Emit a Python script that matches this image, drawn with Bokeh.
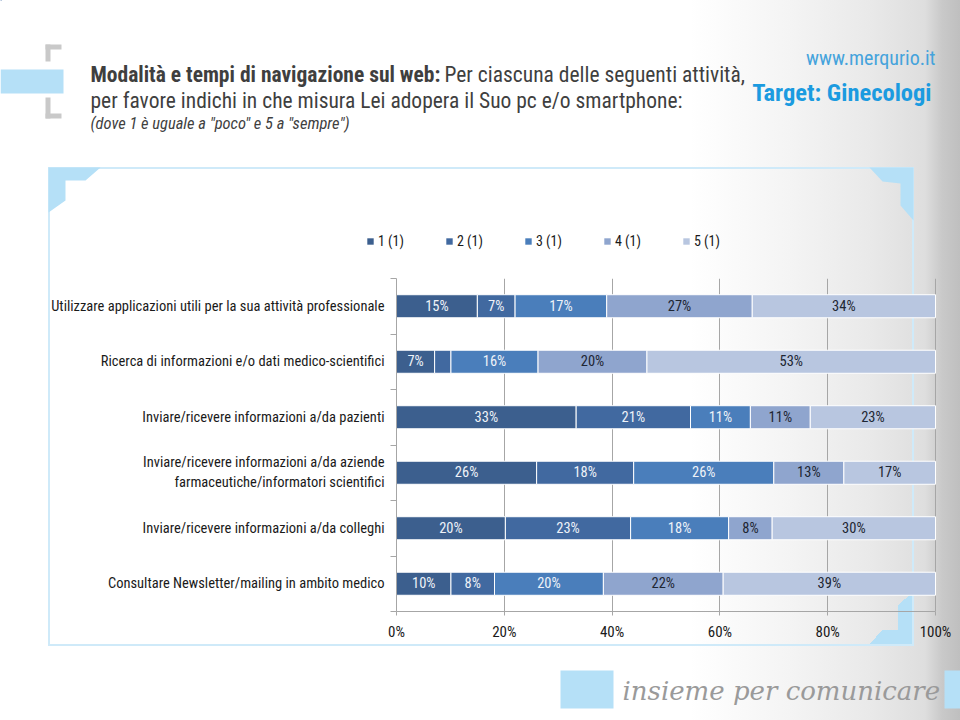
from bokeh.plotting import figure
from bokeh.layouts import column
from bokeh.models import ColumnDataSource, Label, FixedTicker, Range1d
from bokeh.core.properties import value
from bokeh.embed import file_html
from bokeh.resources import INLINE

# ---------------- data ----------------
categories = [
    "Utilizzare applicazioni utili per la sua attività professionale",
    "Ricerca di informazioni e/o dati medico-scientifici",
    "Inviare/ricevere informazioni a/da pazienti",
    "Inviare/ricevere informazioni a/da aziende\nfarmaceutiche/informatori scientifici",
    "Inviare/ricevere informazioni a/da colleghi",
    "Consultare Newsletter/mailing in ambito medico",
]
series = ["1 (1)", "2 (1)", "3 (1)", "4 (1)", "5 (1)"]
s1 = [15, 7, 33, 26, 20, 10]
s2 = [7, 3, 21, 18, 23, 8]
s3 = [17, 16, 11, 26, 18, 20]
s4 = [27, 20, 11, 13, 8, 22]
s5 = [34, 53, 23, 17, 30, 39]
hidden_labels = [(1, 1)]  # (row, series) without a printed label
x_ticks = [0, 20, 40, 60, 80, 100]
x_tick_labels = ["0%", "20%", "40%", "60%", "80%", "100%"]

colors = ["#3C5F8E", "#4169A0", "#4A7EBB", "#8FA5CE", "#B8C6E0"]
label_colors = ["#EEF2F8", "#EEF2F8", "#EEF2F8", "#1E2633", "#1E2633"]

FONT = "Roboto Condensed"
W = 960
LB = "#B5E0F7"      # light blue fills
BOXC = "#CFEAF9"    # light blue frame line
GREY = "#C9C9C9"
GRAD = ("linear-gradient(to right, #ffffff 0px, #ffffff 690px, #f4f4f4 790px, "
        "#e9e9e9 870px, #dedede 925px, #c9c9c9 942px, #bfbfbf 960px)")


def css_rect(x, y, w, h, col):
    return f"linear-gradient({col},{col}) {x}px {y}px / {w}px {h}px no-repeat"


def css_tri(x, y, w, h, col):
    return (f"linear-gradient(to bottom right, transparent 50%, {col} 50%) "
            f"{x}px {y}px / {w}px {h}px no-repeat")


def bare(p):
    p.outline_line_color = None
    p.background_fill_alpha = 0
    p.border_fill_alpha = 0
    p.xgrid.visible = False
    p.ygrid.visible = False


# ================= header figure (page y 0..278) =================
HA = 278
A = figure(width=W, height=HA, output_backend="svg", toolbar_location=None,
           x_range=Range1d(0, W), y_range=Range1d(HA, 0),
           x_axis_location=None, y_axis_location=None, min_border=0,
           frame_align=False)
bare(A)
A.styles = {"background": ", ".join([
    css_rect(48, 167, 866, 2, BOXC), css_rect(48, 167, 2, HA - 167, BOXC),
    css_rect(912, 167, 2, HA - 167, BOXC), GRAD])}

A.quad(left=[0], right=[63], top=[69], bottom=[93], color=LB, line_alpha=0)
A.quad(left=[45, 45, 45, 45], right=[50, 61, 50, 61], top=[44, 44, 97, 113],
       bottom=[61, 49, 118, 118], color=GREY, line_alpha=0)
A.patch([48, 100, 85, 65, 65, 48], [167, 167, 180, 180, 200, 212], color=LB, line_alpha=0)
A.patch([869, 913, 913, 900, 900, 882], [167, 167, 220, 205, 183, 181], color=LB, line_alpha=0)

# legend proxies (same colours as the stacked series), drawn off-canvas
for col, name in zip(colors, series):
    A.hbar(y=[-1000], left=[0], right=[1], height=1, color=col, line_alpha=0,
           legend_label=name)
lg = A.legend[0]
lg.orientation = "horizontal"
lg.location = (366, HA - 249)
lg.margin = 0
lg.padding = 0
lg.spacing = 7
lg.glyph_width = 8
lg.glyph_height = 8
lg.label_width = 60
lg.label_height = 16
lg.label_standoff = 4
lg.label_text_font = FONT
lg.label_text_font_size = "14px"
lg.label_text_color = "#1a1a1a"
lg.border_line_alpha = 0
lg.background_fill_alpha = 0


def add_label(fig, x, y, text, size, color, style="normal", align="left", font=FONT):
    fig.add_layout(Label(x=x, y=y, text=text, text_font=font, text_font_size=size,
                         text_font_style=style, text_color=color,
                         text_align=align, text_baseline="middle"))


add_label(A, 90, 74, "Modalità e tempi di navigazione sul web:", "21.5px", "#3F3F3F", "bold")
add_label(A, 444, 74, "Per ciascuna delle seguenti attività,", "21.5px", "#3F3F3F")
add_label(A, 90, 100, "per favore indichi in che misura Lei adopera il Suo pc e/o smartphone:",
          "21.5px", "#3F3F3F")
add_label(A, 90, 123, "(dove 1 è uguale a \"poco\" e 5 a \"sempre\")", "16.5px", "#3F3F3F", "italic")
add_label(A, 935, 57, "www.merqurio.it", "20px", "#45A3DC", align="right")
add_label(A, 931, 92, "Target: Ginecologi", "24.5px", "#1B9BE0", "bold", align="right")

# ================= chart figure (page y 278..644) =================
FL, F100 = 396, 935          # page x of 0 % and 100 %
HB = 366
x_end = 100.0 * (W - FL) / (F100 - FL)
n = len(categories)
B = figure(width=W, height=HB, output_backend="svg", toolbar_location=None,
           x_range=Range1d(0, x_end), y_range=Range1d(n - 0.5, -0.5),
           min_border_left=FL, min_border_right=0, min_border_top=0,
           min_border_bottom=33, frame_align=False)
B.outline_line_color = None
B.background_fill_alpha = 0
B.border_fill_alpha = 0
B.styles = {"background": ", ".join([
    css_rect(48, 0, 2, HB, BOXC), css_rect(912, 0, 2, HB, BOXC),
    css_tri(898, 315, 14, 12, LB), css_rect(898, 327, 15, 39, LB),
    css_rect(882, 352, 16, 14, LB), css_tri(870, 352, 12, 14, LB), GRAD])}

keys = ["s1", "s2", "s3", "s4", "s5"]
raw = [s1, s2, s3, s4, s5]
totals = [sum(r[i] for r in raw) for i in range(n)]
data = {"y": list(range(n))}
for k, r in zip(keys, raw):
    data[k] = [v / t * 100 for v, t in zip(r, totals)]
src = ColumnDataSource(data)
B.hbar_stack(keys, y="y", height=0.415, color=colors, source=src,
             line_color="white", line_width=1)

lx, ly, lt, lc = [], [], [], []
for row in range(n):
    cum = 0.0
    for j, k in enumerate(keys):
        v = data[k][row]
        if (row, j) not in hidden_labels:
            lx.append(cum + v / 2)
            ly.append(row)
            lt.append(f"{raw[j][row]}%")
            lc.append(label_colors[j])
        cum += v
B.text(x="x", y="y", text="t", text_color="c",
       source=ColumnDataSource(dict(x=lx, y=ly, t=lt, c=lc)),
       text_align="center", text_baseline="middle",
       text_font=value(FONT), text_font_size="14.5px")

B.xaxis.ticker = FixedTicker(ticks=x_ticks)
B.xaxis.bounds = (0, 100)
B.xaxis.major_label_overrides = {t: s for t, s in zip(x_ticks, x_tick_labels)}
B.xaxis.major_label_text_font = FONT
B.xaxis.major_label_text_font_size = "15px"
B.xaxis.major_label_text_color = "#1a1a1a"
B.xaxis.major_label_standoff = 7
B.xaxis.major_tick_in = 0
B.xaxis.major_tick_out = 4
B.xaxis.minor_tick_out = 0
B.xaxis.minor_tick_in = 0
B.xaxis.axis_line_color = "#A6A6A6"
B.xaxis.major_tick_line_color = "#A6A6A6"

B.yaxis.ticker = FixedTicker(ticks=list(range(n)),
                             minor_ticks=[i - 0.5 for i in range(n + 1)])
B.yaxis.major_label_overrides = {i: c for i, c in enumerate(categories)}
B.yaxis.major_label_text_font = FONT
B.yaxis.major_label_text_font_size = "14.5px"
B.yaxis.major_label_text_color = "#1a1a1a"
B.yaxis.major_label_standoff = 6
B.yaxis.major_tick_in = 0
B.yaxis.major_tick_out = 0
B.yaxis.minor_tick_in = 0
B.yaxis.minor_tick_out = 6
B.yaxis.axis_line_color = "#A6A6A6"
B.yaxis.minor_tick_line_color = "#A6A6A6"

B.xgrid.ticker = FixedTicker(ticks=x_ticks)
B.xgrid.grid_line_color = "#A6A6A6"
B.ygrid.visible = False

# ================= footer figure (page y 644..720) =================
HC = 720 - 644
C = figure(width=W, height=HC, output_backend="svg", toolbar_location=None,
           x_range=Range1d(0, W), y_range=Range1d(720, 644),
           x_axis_location=None, y_axis_location=None, min_border=0,
           frame_align=False)
bare(C)
C.styles = {"background": ", ".join([css_rect(48, 0, 866, 2, BOXC), GRAD])}
C.quad(left=[560, 944], right=[613, 960], top=[670, 670], bottom=[708, 708],
       color=LB, line_alpha=0)
add_label(C, 622, 690, "insieme per comunicare", "26px", "#9A9A9A", "italic",
          font="DejaVu Serif")

page = column(A, B, C, spacing=0)
open("out.html", "w").write(file_html(page, INLINE))
